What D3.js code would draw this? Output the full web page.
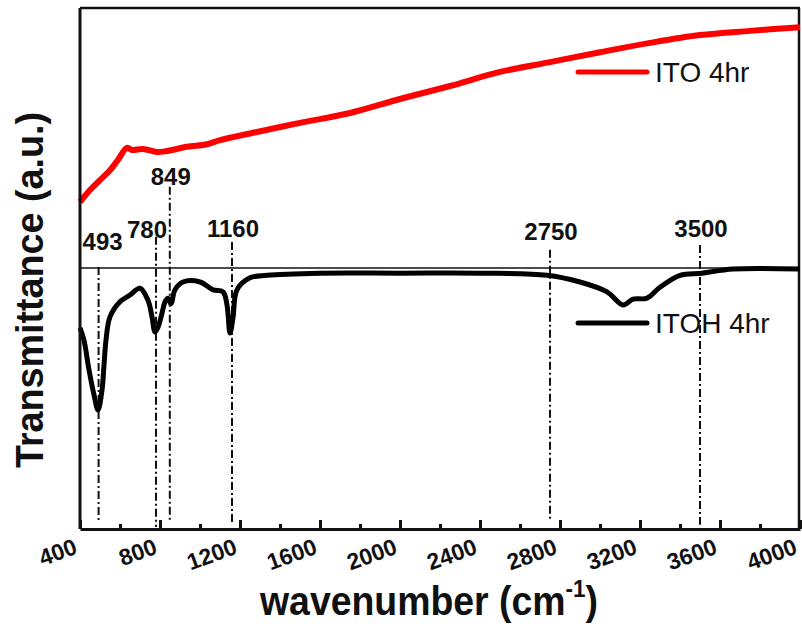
<!DOCTYPE html>
<html>
<head>
<meta charset="utf-8">
<script src="https://cdn.jsdelivr.net/npm/d3@7"></script>
<style>
  body { margin: 0; background: #fff; }
  text { font-family: "Liberation Sans", Arial, sans-serif; }
</style>
</head>
<body>
<div id="my_dataviz"></div>
<script>
// ITO 4hr (red) : wavenumber / transmittance (a.u.)
var itoWn = [400, 450, 500, 550, 590, 635, 660, 715, 785, 835, 935, 1035, 1100, 1265, 1500,
             1750, 2000, 2250, 2500, 2750, 3000, 3250, 3500, 3750, 4000];
var itoT  = [62.9, 65.2, 67.1, 69.0, 71.0, 73.3, 72.9, 73.1, 72.5, 72.7, 73.5, 74.0, 74.8, 76.2, 78.1,
             80.0, 82.7, 85.2, 87.9, 89.8, 91.7, 93.5, 95.0, 95.8, 96.5];

// ITOH 4hr (black)
var itohWn = [400, 420, 445, 470, 490, 510, 520, 530, 550, 600, 650, 700, 740, 760, 775, 790, 810,
              825, 840, 855, 875, 915, 1000, 1065, 1115, 1135, 1150, 1165, 1185, 1250, 1335, 1600,
              2000, 2400, 2735, 2900, 3035, 3115, 3165, 3235, 3300, 3400, 3510, 3665, 4000];
var itohT  = [38.7, 36.3, 30.6, 25.8, 22.9, 26.7, 31.5, 36.3, 40.8, 43.7, 45.0, 46.3, 44.0, 40.8, 37.9, 38.8, 41.5,
              43.7, 44.4, 43.3, 46.0, 47.5, 47.5, 46.0, 45.6, 43.1, 37.7, 40.6, 46.0, 48.3, 48.8, 49.2,
              49.2, 49.2, 48.8, 47.5, 45.6, 43.1, 44.2, 44.4, 46.5, 48.8, 49.2, 50.0, 50.0];

// baseline of the ITOH trace
var baseLevel = 50.2;

// marked peaks
var peaks      = [493, 780, 849, 1160, 2750, 3500];
var peakTop    = [50.4, 56.2, 65.8, 55.2, 53.7, 54.6];
var peakBottom = [1.3, 0.4, 1.5, 0.8, 1.8, 0.8];
var peakLabelT = [53.7, 56.0, 66.2, 56.2, 55.6, 56.2];

var majorTicks = [400, 800, 1200, 1600, 2000, 2400, 2800, 3200, 3600, 4000];
var minorTicks = [600, 1000, 1400, 1800, 2200, 2600, 3000, 3400, 3800];

var margin = {top: 8, right: 2, bottom: 99, left: 80},
    width = 802 - margin.left - margin.right,
    height = 628 - margin.top - margin.bottom;

var svg = d3.select("#my_dataviz")
  .append("svg")
    .attr("width", 802)
    .attr("height", 628)
  .append("g")
    .attr("transform", "translate(" + margin.left + "," + margin.top + ")");

var x = d3.scaleLinear().domain([400, 4000]).range([0, width]);
var y = d3.scaleLinear().domain([0, 100.2]).range([height, 0]);

// frame top / right
svg.append("line").attr("x1", 0).attr("x2", width).attr("y1", 0).attr("y2", 0)
  .attr("stroke", "#111").attr("stroke-width", 2.5);
svg.append("line").attr("x1", width - 1).attr("x2", width - 1).attr("y1", 0).attr("y2", height)
  .attr("stroke", "#111").attr("stroke-width", 2.5);

// baseline
svg.append("line")
  .attr("x1", 0).attr("x2", width)
  .attr("y1", y(baseLevel)).attr("y2", y(baseLevel))
  .attr("stroke", "#111").attr("stroke-width", 1.5);

// peak markers
peaks.forEach(function(p, i) {
  svg.append("line")
    .attr("x1", x(p)).attr("x2", x(p))
    .attr("y1", y(peakTop[i])).attr("y2", y(peakBottom[i]))
    .attr("stroke", "#111").attr("stroke-width", 2)
    .attr("stroke-dasharray", "8,3,2,3");
  svg.append("text")
    .attr("x", x(p) + (p == 780 ? -9 : (p == 493 ? 4 : 1)))
    .attr("y", y(peakLabelT[i]))
    .attr("text-anchor", "middle")
    .attr("font-size", 24)
    .attr("font-weight", "bold")
    .attr("fill", "#111")
    .text(p);
});

var line = d3.line()
  .x(function(d) { return x(d[0]); })
  .y(function(d) { return y(d[1]); })
  .curve(d3.curveCatmullRom.alpha(0.5));

svg.append("path")
  .datum(d3.zip(itohWn, itohT))
  .attr("fill", "none")
  .attr("stroke", "#000")
  .attr("stroke-width", 5)
  .attr("stroke-linejoin", "round")
  .attr("d", line);

svg.append("path")
  .datum(d3.zip(itoWn, itoT))
  .attr("fill", "none")
  .attr("stroke", "#ff0000")
  .attr("stroke-width", 6)
  .attr("stroke-linejoin", "round")
  .attr("d", line);

// left axis (no ticks)
svg.append("line").attr("x1", 0).attr("x2", 0).attr("y1", 0).attr("y2", height)
  .attr("stroke", "#111").attr("stroke-width", 3);

// X axis, ticks inside
svg.append("g")
  .attr("transform", "translate(0," + height + ")")
  .call(d3.axisBottom(x).tickValues(minorTicks).tickSize(-5).tickFormat(""))
  .call(function(g) { g.select(".domain").remove(); })
  .selectAll("line").attr("stroke", "#111").attr("stroke-width", 3);

var xAxis = svg.append("g")
  .attr("transform", "translate(0," + height + ")")
  .call(d3.axisBottom(x).tickValues(majorTicks).tickSize(-9).tickSizeOuter(0).tickFormat(d3.format("d")));
xAxis.select(".domain").attr("stroke", "#111").attr("stroke-width", 3);
xAxis.selectAll("line").attr("stroke", "#111").attr("stroke-width", 3);
xAxis.selectAll("text")
  .attr("x", 0).attr("y", 0).attr("dy", 0)
  .attr("text-anchor", "end")
  .attr("transform", "translate(-2,24) rotate(-20)")
  .attr("font-size", 23)
  .attr("font-weight", "bold")
  .attr("fill", "#111")
  .style("font-family", "'Liberation Sans', Arial, sans-serif");

// axis titles
var xt = svg.append("text")
  .attr("x", 260 - margin.left)
  .attr("y", 615 - margin.top)
  .attr("font-size", 40)
  .attr("font-weight", "bold")
  .attr("fill", "#111");
xt.append("tspan").text("wavenumber (cm");
xt.append("tspan").attr("font-size", 24).attr("dy", -18).text("-1");
xt.append("tspan").attr("dy", 18).text(")");
xt.attr("textLength", 338).attr("lengthAdjust", "spacingAndGlyphs");

svg.append("text")
  .attr("transform", "translate(" + (43 - margin.left) + "," + (290 - margin.top) + ") rotate(-90)")
  .attr("text-anchor", "middle")
  .attr("font-size", 38)
  .attr("font-weight", "bold")
  .attr("fill", "#111")
  .attr("textLength", 356)
  .attr("lengthAdjust", "spacingAndGlyphs")
  .text("Transmittance (a.u.)");

// legends
var legends = [
  {name: "ITO 4hr", color: "#ff0000", t: 87.9},
  {name: "ITOH 4hr", color: "#000", t: 39.6}
];
legends.forEach(function(l) {
  svg.append("line")
    .attr("x1", x(2890)).attr("x2", x(3235))
    .attr("y1", y(l.t)).attr("y2", y(l.t))
    .attr("stroke", l.color).attr("stroke-width", 5).attr("stroke-linecap", "round");
  svg.append("text")
    .attr("x", x(3275)).attr("y", y(l.t) + 10)
    .attr("font-size", 28)
    .attr("fill", "#111")
    .text(l.name);
});
</script>
</body>
</html>
